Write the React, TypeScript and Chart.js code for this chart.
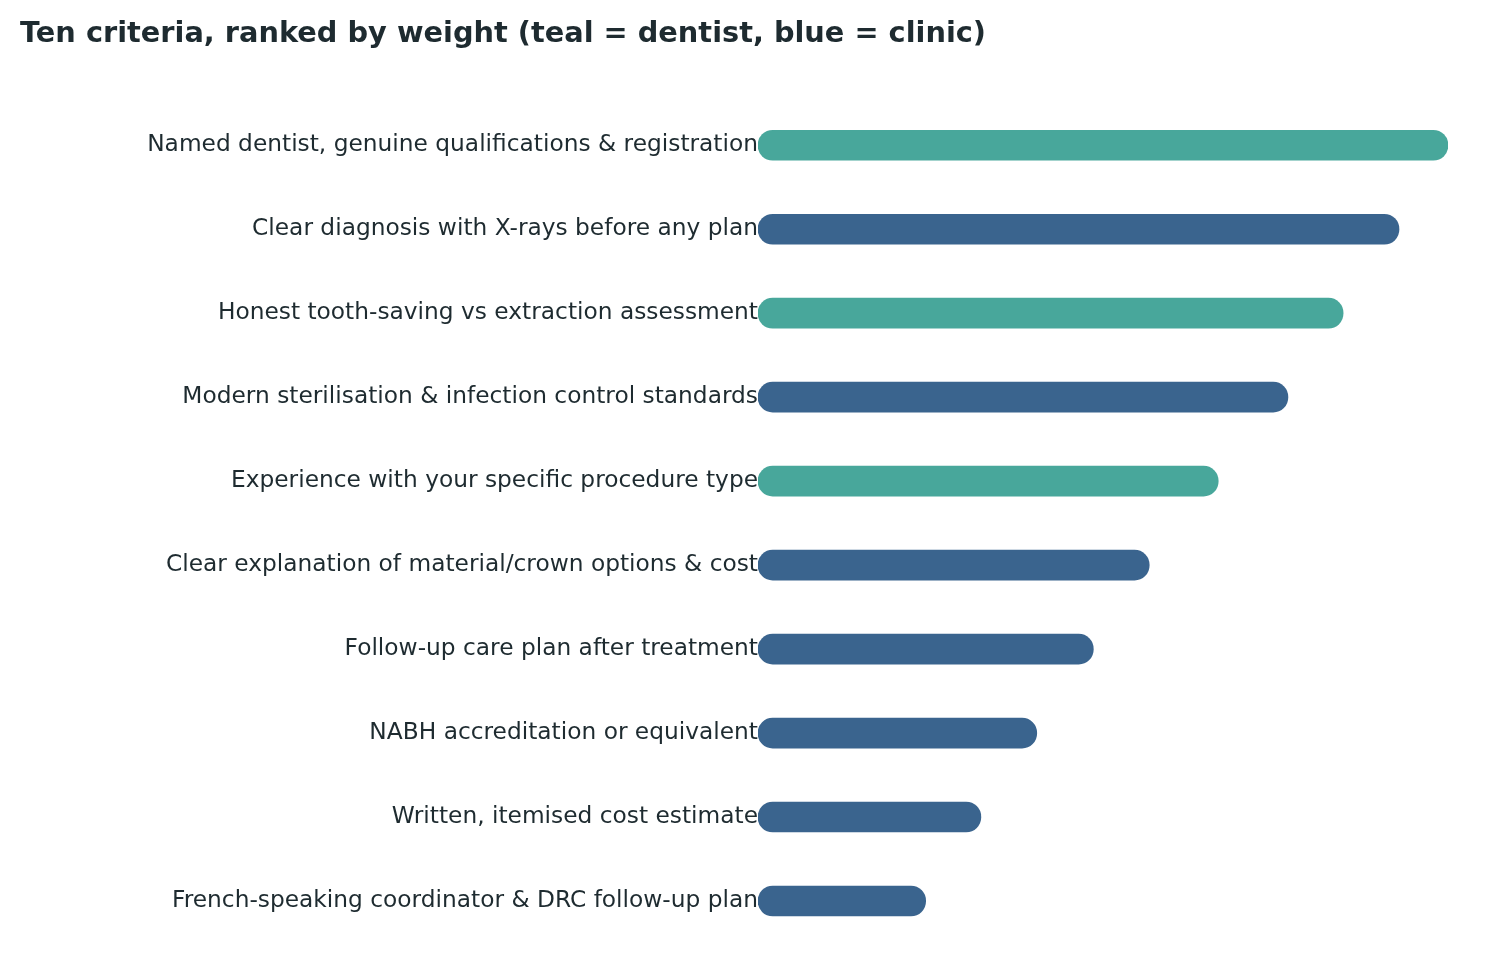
import React, { useEffect, useRef } from "react";
import { Chart, registerables } from "chart.js";

Chart.register(...registerables);

const categories: string[] = [
  "Named dentist, genuine qualifications & registration",
  "Clear diagnosis with X-rays before any plan",
  "Honest tooth-saving vs extraction assessment",
  "Modern sterilisation & infection control standards",
  "Experience with your specific procedure type",
  "Clear explanation of material/crown options & cost",
  "Follow-up care plan after treatment",
  "NABH accreditation or equivalent",
  "Written, itemised cost estimate",
  "French-speaking coordinator & DRC follow-up plan",
];

const weights: number[] = [10, 9.29, 8.48, 7.68, 6.67, 5.67, 4.86, 4.04, 3.23, 2.43];

const owner: string[] = [
  "dentist", "clinic", "dentist", "clinic", "dentist",
  "clinic", "clinic", "clinic", "clinic", "clinic",
];

const TEAL = "#48A79B";
const BLUE = "#3A648E";
const TEXT = "#1E2B30";
const TITLE = "Ten criteria, ranked by weight (teal = dentist, blue = clinic)";

export default function App() {
  const ref = useRef<HTMLCanvasElement | null>(null);

  useEffect(() => {
    document.body.style.margin = "0";
    const ctx = ref.current!;
    const chart = new Chart(ctx, {
      type: "bar",
      data: {
        labels: categories,
        datasets: [
          {
            data: weights,
            backgroundColor: owner.map((o) => (o === "dentist" ? TEAL : BLUE)),
            borderWidth: 0,
            borderRadius: 15,
            borderSkipped: false,
            barThickness: 30,
          },
        ],
      },
      options: {
        indexAxis: "y",
        animation: false,
        responsive: false,
        maintainAspectRatio: false,
        layout: { padding: { left: 20, right: 39, top: 17.5, bottom: 37 } },
        plugins: {
          legend: { display: false },
          tooltip: { enabled: false },
          title: {
            display: true,
            text: TITLE,
            align: "start",
            color: TEXT,
            font: { family: "DejaVu Sans", size: 28.8, weight: "bold" },
            padding: { top: 0, bottom: 51.2 },
          },
        },
        scales: {
          x: {
            min: 0,
            max: 10,
            display: false,
            grid: { display: false },
          },
          y: {
            grid: { display: false, drawTicks: false },
            border: { display: false },
            ticks: {
              color: TEXT,
              padding: 0,
              font: { family: "DejaVu Sans", size: 23.3 },
            },
            afterFit: (scale: any) => {
              scale.width = 738;
            },
          },
        },
      },
    });
    return () => chart.destroy();
  }, []);

  return <canvas ref={ref} width={1487} height={980} style={{ display: "block" }} />;
}
